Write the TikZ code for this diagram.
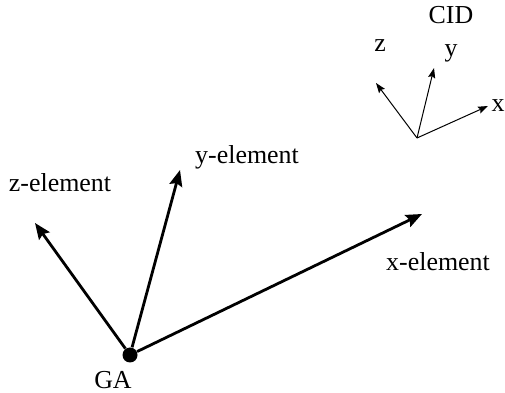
\documentclass[tikz,border=0pt]{standalone}
\usepackage{fontspec}
\setmainfont{Liberation Serif}
\usetikzlibrary{arrows.meta}
\tikzset{
  axisArrow/.style={-{Stealth[length=8bp,width=6.5bp,inset=1.2bp]}, line width=1.4bp, black},
  cidArrow/.style={-{Stealth[length=5bp,width=3.6bp,inset=0.8bp]}, line width=0.5bp, black},
  axisLabel/.style={font=\fontsize{13}{15}\selectfont, inner sep=0pt},
  originDot/.style={circle, fill=black, inner sep=0pt, minimum size=7.5bp}
}
\begin{document}
\begin{tikzpicture}[x=0.5bp,y=-0.5bp]
  \useasboundingbox (0,0) rectangle (505,393);
  % global axes at GA
  \node[originDot] (ga) at (130,355) {};
  \node[axisLabel] (gaLabel) at (113,380) {GA};
  \coordinate (xTip) at (422,214);
  \coordinate (yTip) at (180,170);
  \coordinate (zTip) at (35,223);
  \draw[axisArrow] (ga) -- (xTip);
  \draw[axisArrow] (ga) -- (yTip);
  \draw[axisArrow] (ga) -- (zTip);
  \node[axisLabel] (xLabel) at (438,262) {x-element};
  \node[axisLabel] (yLabel) at (247,157) {y-element};
  \node[axisLabel] (zLabel) at (60,183) {z-element};
  % small CID frame
  \coordinate (cid) at (417,138);
  \coordinate (cidX) at (488,106);
  \coordinate (cidY) at (434,68);
  \coordinate (cidZ) at (376,83);
  \draw[cidArrow] (cid) -- (cidX);
  \draw[cidArrow] (cid) -- (cidY);
  \draw[cidArrow] (cid) -- (cidZ);
  \node[axisLabel] (cidLabel) at (451,15) {CID};
  \node[axisLabel] (cidXLabel) at (498,106) {x};
  \node[axisLabel] (cidYLabel) at (451,53) {y};
  \node[axisLabel] (cidZLabel) at (380,46) {z};
\end{tikzpicture}
\end{document}
